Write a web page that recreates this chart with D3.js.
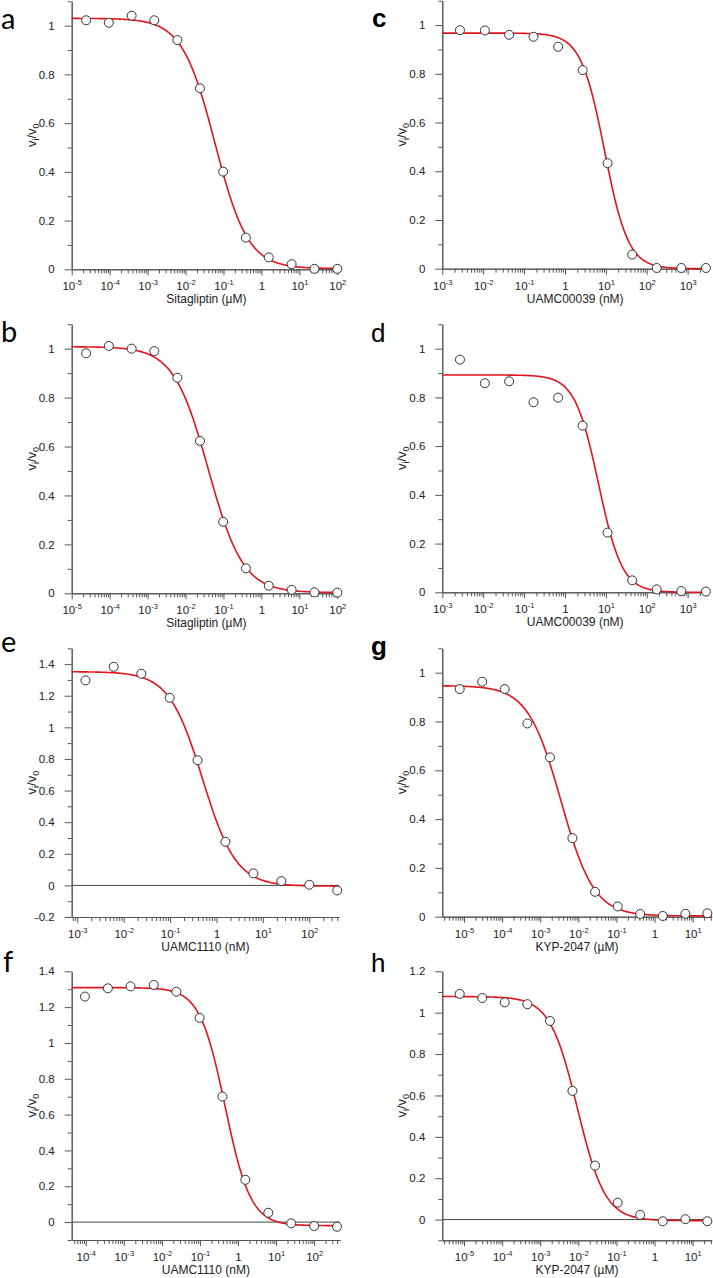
<!DOCTYPE html>
<html><head><meta charset="utf-8">
<script src="https://cdn.jsdelivr.net/npm/d3@7"></script>
<style>body{margin:0;background:#fff} svg{display:block}</style>
</head><body>
<svg id="chart" width="713" height="1278"></svg>
<script>
// ---------- data ----------
const sitaX = [2.4e-5, 9.5e-5, 3.8e-4, 1.5e-3, 6.1e-3, 0.024, 0.098, 0.39, 1.56, 6.25, 25, 100];
const aY = [1.022, 1.012, 1.041, 1.022, 0.941, 0.743, 0.401, 0.130, 0.049, 0.021, 0.002, 0.002];
const bY = [0.981, 1.011, 1.000, 0.990, 0.881, 0.623, 0.292, 0.102, 0.031, 0.014, 0.004, 0.003];
const uamc39X = [0.0027, 0.011, 0.043, 0.17, 0.68, 2.7, 11, 44, 175, 700, 2800];
const cY = [0.979, 0.978, 0.960, 0.952, 0.911, 0.815, 0.433, 0.058, 0.003, 0.003, 0.003];
const dY = [0.955, 0.858, 0.866, 0.780, 0.799, 0.684, 0.245, 0.049, 0.012, 0.005, 0.003];
const eX = [0.0015, 0.0061, 0.024, 0.098, 0.39, 1.56, 6.25, 25, 100, 400];
const eY = [1.297, 1.383, 1.339, 1.187, 0.792, 0.276, 0.076, 0.027, 0.004, -0.032];
const fX = [9.5e-5, 3.8e-4, 1.5e-3, 6.1e-3, 0.024, 0.098, 0.39, 1.56, 6.25, 25, 100, 400];
const fY = [1.259, 1.305, 1.316, 1.324, 1.286, 1.140, 0.701, 0.236, 0.052, -0.007, -0.022, -0.026];
const kypX = [7.7e-6, 3.0e-5, 1.17e-4, 4.6e-4, 1.8e-3, 7.0e-3, 0.0275, 0.108, 0.42, 1.64, 6.45, 24.3];
const gY = [0.933, 0.963, 0.933, 0.792, 0.653, 0.322, 0.102, 0.042, 0.011, 0.003, 0.012, 0.014];
const hY = [1.091, 1.071, 1.050, 1.041, 0.960, 0.622, 0.261, 0.082, 0.023, -0.008, 0.002, -0.008];
// fitted dose-response parameters: [top, bottom, IC50, Hill slope]
const fitA = [1.03, 0.003, 0.06, 1.0];
const fitB = [1.008, 0.003, 0.04, 0.95];
const fitC = [0.967, 0.0, 9.3, 1.5];
const fitD = [0.892, 0.0, 6.6, 1.5];
const fitE = [1.352, -0.005, 0.5, 1.2];
const fitF = [1.309, -0.02, 0.46, 1.3];
const fitG = [0.947, 0.003, 0.0035, 1.0];
const fitH = [1.078, -0.005, 0.0095, 1.2];
// axis titles and panel letters
const xTitles = {sita: "Sitagliptin (µM)", u39: "UAMC00039 (nM)", u1110: "UAMC1110 (nM)", kyp: "KYP-2047 (µM)"};
const letters = ["a", "b", "c", "d", "e", "f", "g", "h"];

// ---------- layout (positions/styles) ----------
const panels = [
  {xs:sitaX, ys:aY, fit:fitA, title:xTitles.sita, xd:[-5,2.1], xr:[71.7,341.1], yd:[0,1.1], yr:[269.3,1.3], major:[0,1], zero:false, left:true,  lx:1, ly:28.6, bold:false},
  {xs:sitaX, ys:bY, fit:fitB, title:xTitles.sita, xd:[-5,2.1], xr:[71.7,341.1], yd:[0,1.1], yr:[593.3,324.2], major:[0,1], zero:false, left:true, lx:1, ly:341.7, bold:false},
  {xs:uamc39X, ys:cY, fit:fitC, title:xTitles.u39, xd:[-3,3.5], xr:[442.3,708.1], yd:[0,1.1], yr:[268.7,0.7], major:[0,1], zero:false, left:false, lx:372, ly:26.7, bold:true},
  {xs:uamc39X, ys:dY, fit:fitD, title:xTitles.u39, xd:[-3,3.5], xr:[442.3,708.1], yd:[0,1.1], yr:[592.3,324.3], major:[0,1], zero:false, left:false, lx:371, ly:341.7, bold:false},
  {xs:eX, ys:eY, fit:fitE, title:xTitles.u1110, xd:[-3.12,2.64], xr:[71.7,339], yd:[-0.2,1.5], yr:[917,648.3], major:[-0.2,1.4], zero:true, left:true, lx:1, ly:651.7, bold:false},
  {xs:fX, ys:fY, fit:fitF, title:xTitles.u1110, xd:[-4.37,2.68], xr:[71.7,340], yd:[-0.1,1.4], yr:[1240,971.3], major:[0,1.4], zero:true, left:true, lx:3, ly:971.7, bold:false},
  {xs:kypX, ys:gY, fit:fitG, title:xTitles.kyp, xd:[-5.57,1.5], xr:[442.3,711.7], yd:[0,1.1], yr:[916.7,648.3], major:[0,1], zero:false, left:false, lx:371, ly:655, bold:true},
  {xs:kypX, ys:hY, fit:fitH, title:xTitles.kyp, xd:[-5.57,1.5], xr:[442.3,711.7], yd:[-0.1,1.2], yr:[1240.3,971.3], major:[0,1.2], zero:true, left:false, lx:371, ly:972, bold:false}
];

const svg = d3.select("#chart");
const AX = "#555", TXT = "#222", FONT = "'Liberation Sans', Arial, sans-serif";

function fmtY(d){ const v = Math.round(d*10)/10; return (v<0?"-":"") + String(Math.abs(v)); }

panels.forEach((p, i) => {
  const g = svg.append("g");
  const x = d3.scaleLog().domain([Math.pow(10,p.xd[0]), Math.pow(10,p.xd[1])]).range(p.xr);
  const y = d3.scaleLinear().domain(p.yd).range(p.yr);
  const yBase = p.yr[0];

  // x ticks
  const majors = [], minors = [];
  for (let k = Math.floor(p.xd[0]); k <= Math.ceil(p.xd[1]); k++) {
    for (let m = 1; m <= 9; m++) {
      const lv = k + Math.log10(m);
      if (lv < p.xd[0] - 1e-9 || lv > p.xd[1] + 1e-9) continue;
      const v = m * Math.pow(10, k);
      if (m === 1) majors.push(v); else minors.push(v);
    }
  }
  const xMinor = g.append("g").attr("transform", `translate(0,${yBase})`)
    .call(d3.axisBottom(x).tickValues(minors).tickSize(4).tickSizeOuter(0).tickFormat(""));
  const xMajor = g.append("g").attr("transform", `translate(0,${yBase})`)
    .call(d3.axisBottom(x).tickValues(majors).tickSize(6).tickSizeOuter(0).tickFormat(""));
  [xMinor, xMajor].forEach(a => {
    a.select(".domain").attr("stroke", AX);
    a.selectAll(".tick line").attr("stroke", AX);
  });
  // decade labels with superscripts
  xMajor.selectAll(".tick").each(function(d){
    const k = Math.round(Math.log10(d));
    const t = d3.select(this).append("text")
      .attr("y", 21).attr("fill", TXT).attr("text-anchor", "middle")
      .style("font-family", FONT).style("font-size", "11.5px");
    if (k === 0) { t.text("1"); }
    else {
      t.append("tspan").text("10");
      t.append("tspan").attr("dy", -5).style("font-size", "7.5px").text(String(k));
    }
  });

  // y ticks
  const yMinorVals = [], yMajorVals = [];
  for (let v = Math.round(p.yd[0]*10); v <= Math.round(p.yd[1]*10); v++) {
    const val = v/10;
    if (v % 2 === 0 && val >= p.major[0]-1e-9 && val <= p.major[1]+1e-9) yMajorVals.push(val);
    else yMinorVals.push(val);
  }
  const yMinor = g.append("g").attr("transform", `translate(${p.xr[0]},0)`)
    .call(d3.axisLeft(y).tickValues(yMinorVals).tickSize(4).tickSizeOuter(0).tickFormat(""));
  const yMajor = g.append("g").attr("transform", `translate(${p.xr[0]},0)`)
    .call(d3.axisLeft(y).tickValues(yMajorVals).tickSize(7).tickSizeOuter(0).tickPadding(10).tickFormat(fmtY));
  [yMinor, yMajor].forEach(a => {
    a.select(".domain").attr("stroke", AX);
    a.selectAll(".tick line").attr("stroke", AX);
  });
  yMajor.selectAll(".tick text").attr("fill", TXT).style("font-family", FONT).style("font-size", "11.5px");

  // zero line
  if (p.zero) {
    g.append("line").attr("x1", p.xr[0]).attr("x2", p.xr[1])
      .attr("y1", y(0)).attr("y2", y(0)).attr("stroke", "#444").attr("stroke-width", 1);
  }

  // fitted curve
  const [top, bot, ic50, hill] = p.fit;
  const curve = d3.range(0, 301).map(j => {
    const lv = p.xd[0] + (p.xd[1]-p.xd[0]) * j/300;
    const xv = Math.pow(10, lv);
    return [xv, bot + (top-bot)/(1 + Math.pow(xv/ic50, hill))];
  });
  g.append("path").datum(curve)
    .attr("d", d3.line().x(d => x(d[0])).y(d => y(d[1])))
    .attr("fill", "none").attr("stroke", "#e3141b").attr("stroke-width", 1.6);

  // points
  g.selectAll("circle.pt").data(p.xs.map((v, j) => [v, p.ys[j]])).join("circle")
    .attr("class", "pt").attr("cx", d => x(d[0])).attr("cy", d => y(d[1])).attr("r", 4.5)
    .attr("fill", "#fff").attr("stroke", "#333").attr("stroke-width", 1);

  // x title
  g.append("text").attr("x", (p.xr[0]+p.xr[1])/2).attr("y", yBase + 34)
    .attr("text-anchor", "middle").attr("fill", TXT)
    .style("font-family", FONT).style("font-size", "12px").text(p.title);

  // y title  v_i / v_0
  const cy = (p.yr[0]+p.yr[1])/2;
  const yt = g.append("text").attr("transform", `translate(${p.xr[0]-36},${cy}) rotate(-90)`)
    .attr("text-anchor", "middle").attr("fill", TXT)
    .style("font-family", FONT).style("font-size", "13px");
  yt.append("tspan").text("v");
  yt.append("tspan").attr("dy", 3).style("font-size", "9px").text("i");
  yt.append("tspan").attr("dy", -3).text("/v");
  yt.append("tspan").attr("dy", 3).style("font-size", "9px").text("0");

  // panel letter
  g.append("text").attr("x", p.lx).attr("y", p.ly).attr("fill", "#000")
    .style("font-family", p.left ? "Lato, 'Open Sans', sans-serif" : FONT)
    .style("font-size", p.left ? "29px" : "26px")
    .style("font-weight", p.bold ? "bold" : "normal")
    .text(letters[i]);
});
</script>
</body></html>
